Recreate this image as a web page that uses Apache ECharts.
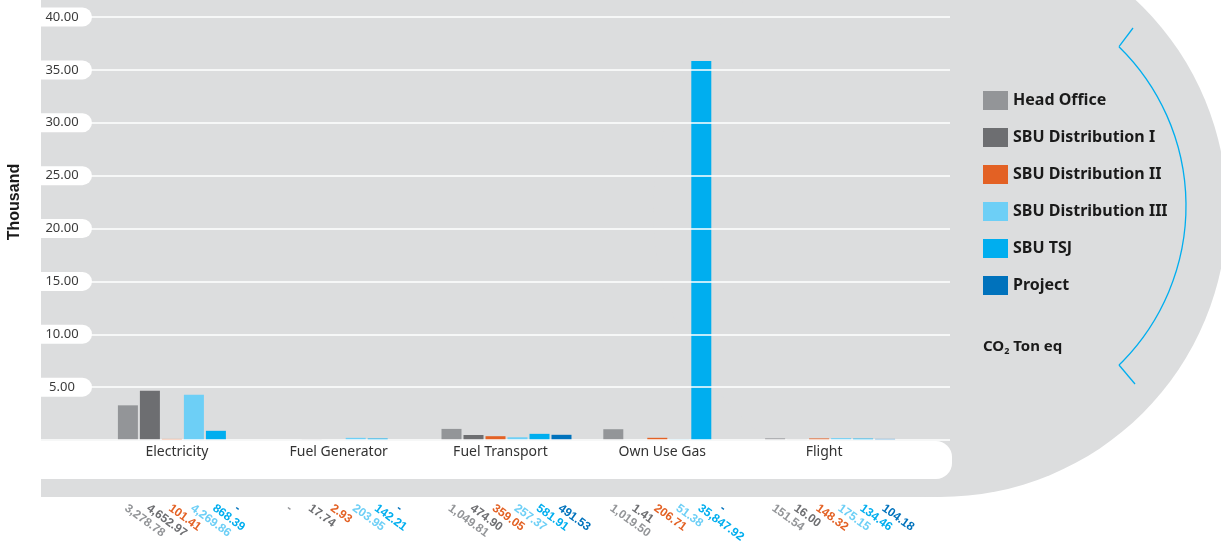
<!DOCTYPE html>
<html>
<head>
<meta charset="utf-8">
<script src="https://cdn.jsdelivr.net/npm/echarts@6/dist/echarts.min.js"></script>
<style>
html,body{margin:0;padding:0;background:#fff;}
#chart{width:1221px;height:545px;}
</style>
</head>
<body>
<div id="chart"></div>
<script>
const categories = ['Electricity', 'Fuel Generator', 'Fuel Transport', 'Own Use Gas', 'Flight'];
const seriesNames = ['Head Office', 'SBU Distribution I', 'SBU Distribution II', 'SBU Distribution III', 'SBU TSJ', 'Project'];
const headOffice = [3278.78, 0, 1049.81, 1019.50, 151.54];
const sbuDist1 = [4652.97, 17.74, 474.90, 1.41, 16.00];
const sbuDist2 = [101.41, 2.93, 359.05, 206.71, 148.32];
const sbuDist3 = [4269.86, 203.95, 257.37, 51.38, 175.15];
const sbuTsj = [868.39, 142.21, 581.91, 35847.92, 134.46];
const project = [0, 0, 491.53, 0, 104.18];
const yMin = 0, yMax = 40000, yStep = 5000;

const colors = ['#939598', '#6d6e71', '#e36124', '#6dcff6', '#00aeef', '#0072bc'];
const allData = [headOffice, sbuDist1, sbuDist2, sbuDist3, sbuTsj, project];

function fmt(v) {
  if (v === 0) return '-';
  const parts = v.toFixed(2).split('.');
  parts[0] = parts[0].replace(/\B(?=(\d{3})+(?!\d))/g, ',');
  return parts.join('.');
}

const chart = echarts.init(document.getElementById('chart'), null, {renderer: 'canvas'});
const GRAY = '#dcddde';
const BLUE = '#00aeef';

// label offset is applied in the rotated frame: rotate (0, 67) back by 36deg
const ANG = 36 * Math.PI / 180;
const DROP = 67;
const labelOffset = [DROP * Math.sin(ANG), DROP * Math.cos(ANG)];

const series = seriesNames.map((name, i) => ({
  name: name,
  type: 'bar',
  xAxisIndex: 1,
  yAxisIndex: 1,
  data: allData[i],
  barWidth: 20,
  barGap: '10%',
  itemStyle: {color: colors[i]},
  label: {
    show: true,
    position: ['40%', '100%'],
    offset: labelOffset,
    rotate: -36,
    align: 'left',
    verticalAlign: 'middle',
    color: colors[i],
    fontFamily: 'Liberation Sans',
    fontWeight: 'bold',
    fontSize: 12,
    formatter: p => fmt(p.value)
  }
}));

const option = {
  backgroundColor: '#fff',
  animation: false,
  legend: {
    orient: 'vertical',
    left: 983,
    top: 91,
    padding: 0,
    itemWidth: 25,
    itemHeight: 19,
    itemGap: 18,
    icon: 'rect',
    data: seriesNames,
    textStyle: {fontFamily: 'Noto Sans', fontSize: 16, fontWeight: 'bold', color: '#1a1a1a'}
  },
  grid: [
    {left: 41, right: 271, top: 17, bottom: 105},
    {left: 102, right: 310, top: 17, bottom: 105}
  ],
  xAxis: [
    {gridIndex: 0, type: 'value', show: false},
    {
      gridIndex: 1,
      type: 'category',
      data: categories,
      axisLine: {show: false},
      axisTick: {show: false},
      axisLabel: {
        margin: 5,
        color: '#333',
        fontFamily: 'Noto Sans',
        fontSize: 14,
        padding: [0, 12, 0, 0]
      }
    }
  ],
  yAxis: [
    {
      gridIndex: 0,
      type: 'value',
      min: yMin,
      max: yMax,
      interval: yStep,
      z: 3,
      axisLine: {show: false},
      axisTick: {show: false},
      splitLine: {lineStyle: {color: '#ffffff', width: 1.6}},
      axisLabel: {
        inside: true,
        margin: 0,
        showMinLabel: false,
        formatter: v => '{a|' + (v / 1000).toFixed(2) + '}',
        rich: {
          a: {
            width: 34,
            align: 'center',
            backgroundColor: '#ffffff',
            padding: [3, 13, 3, 4],
            borderRadius: [0, 10, 10, 0],
            color: '#3a3a3a',
            fontFamily: 'Noto Sans',
            fontSize: 13,
            lineHeight: 14
          }
        }
      }
    },
    {gridIndex: 1, type: 'value', min: yMin, max: yMax, interval: yStep, show: false, splitLine: {show: false}}
  ],
  graphic: [
    {type: 'rect', z: -10, silent: true, shape: {x: 41, y: 0, width: 900, height: 497}, style: {fill: GRAY}},
    {type: 'circle', z: -10, silent: true, shape: {cx: 940, cy: 210, r: 287}, style: {fill: GRAY}},
    {type: 'rect', z: -9, silent: true, shape: {x: 41, y: 441, width: 911, height: 38, r: [0, 16, 16, 0]}, style: {fill: '#ffffff'}},
    {type: 'arc', z: 1, silent: true, shape: {cx: 963.4, cy: 205.9, r: 222.6, startAngle: -0.797, endAngle: 0.797, clockwise: true}, style: {stroke: BLUE, lineWidth: 1.3, fill: null}},
    {type: 'polyline', z: 1, silent: true, shape: {points: [[1133, 28], [1119, 46.7]]}, style: {stroke: BLUE, lineWidth: 1.3}},
    {type: 'polyline', z: 1, silent: true, shape: {points: [[1119, 365], [1135, 384]]}, style: {stroke: BLUE, lineWidth: 1.3}},
    {
      type: 'text', z: 5, x: 983, y: 347,
      style: {
        text: '{a|CO}{b|2}{a| Ton eq}',
        verticalAlign: 'middle',
        rich: {
          a: {fontFamily: 'Noto Sans', fontWeight: 'bold', fontSize: 15, fill: '#1a1a1a', lineHeight: 18},
          b: {fontFamily: 'Noto Sans', fontWeight: 'bold', fontSize: 9, fill: '#1a1a1a', padding: [8, 0, 0, 0]}
        }
      }
    },
    {
      type: 'text', z: 5, x: 15, y: 202, rotation: Math.PI / 2,
      style: {text: 'Thousand', fontFamily: 'Liberation Sans', fontWeight: 'bold', fontSize: 16, fill: '#1a1a1a', align: 'center', verticalAlign: 'middle'}
    }
  ],
  series: series
};
chart.setOption(option);
</script>
</body>
</html>
